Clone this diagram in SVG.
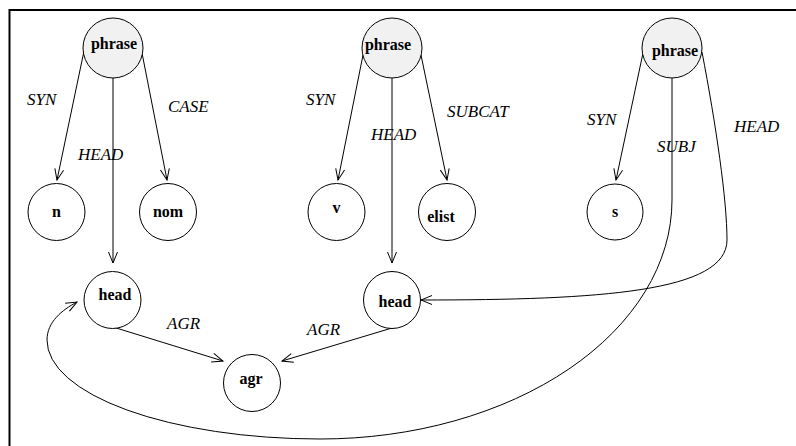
<svg xmlns="http://www.w3.org/2000/svg" width="796" height="446" viewBox="0 0 796 446">
<style>
.node circle{fill:#fff;stroke:#000;stroke-width:1}
.node.ph circle{fill:#f1f1f1}
.node text{font-family:"Liberation Serif",serif;font-weight:bold;font-size:16px;text-anchor:middle;fill:#000}
.edges path{fill:none;stroke:#000;stroke-width:1;marker-end:url(#arr)}
.lbl{font-family:"Liberation Serif",serif;font-style:italic;font-size:17px;fill:#000}
</style>
<defs>
<marker id="arr" markerUnits="userSpaceOnUse" markerWidth="14" markerHeight="12" refX="12" refY="5" orient="auto">
<path d="M1,0.5 L12,5 L1,9.5" fill="none" stroke="#000" stroke-width="1"/>
</marker>
</defs>
<rect width="796" height="446" fill="#fff"/>
<path d="M9.5,446 L9.5,10 L796,10" fill="none" stroke="#000" stroke-width="2"/>
<g class="edges">
<path d="M84,51 L57,180"/>
<path d="M142,53 L167,180"/>
<path d="M113,78 L113,263"/>
<path d="M363,55 L338,180"/>
<path d="M421,55 L447,180"/>
<path d="M392,78 L392,263"/>
<path d="M643,53 L616,180"/>
<path d="M672,78 L672,200 A352,239 0 0 1 320,439 A273,99 0 0 1 47,340 C47,322 62,310 77,302"/>
<path d="M702,52 C716,125 727,200 727,240 C727,292 600,300 421,300"/>
<path d="M113,327 L223,361"/>
<path d="M392,328 L282,361"/>
</g>
<g class="labels">
<text class="lbl" x="27" y="105">SYN</text>
<text class="lbl" x="168" y="112">CASE</text>
<text class="lbl" x="78" y="160">HEAD</text>
<text class="lbl" x="306" y="105">SYN</text>
<text class="lbl" x="447" y="117">SUBCAT</text>
<text class="lbl" x="371" y="140">HEAD</text>
<text class="lbl" x="587" y="125">SYN</text>
<text class="lbl" x="657" y="152">SUBJ</text>
<text class="lbl" x="734" y="132">HEAD</text>
<text class="lbl" x="167" y="329">AGR</text>
<text class="lbl" x="307" y="335">AGR</text>
</g>
<g id="phrase1" class="node ph"><circle cx="113" cy="48" r="30"/><text x="114" y="49">phrase</text></g>
<g id="phrase2" class="node ph"><circle cx="392" cy="48" r="30"/><text x="388" y="50">phrase</text></g>
<g id="phrase3" class="node ph"><circle cx="672" cy="48" r="30"/><text x="675" y="56">phrase</text></g>
<g id="n" class="node"><circle cx="56.5" cy="212" r="28.5"/><text x="56.5" y="217">n</text></g>
<g id="nom" class="node"><circle cx="168" cy="212" r="28.5"/><text x="168" y="217">nom</text></g>
<g id="v" class="node"><circle cx="336.5" cy="212" r="28.5"/><text x="336.5" y="213">v</text></g>
<g id="elist" class="node"><circle cx="447" cy="212" r="28.5"/><text x="441" y="222">elist</text></g>
<g id="s" class="node"><circle cx="615" cy="212" r="28"/><text x="615" y="217">s</text></g>
<g id="head1" class="node"><circle cx="112.5" cy="300" r="28.5"/><text x="115" y="300">head</text></g>
<g id="head2" class="node"><circle cx="392" cy="300" r="28.5"/><text x="395" y="307">head</text></g>
<g id="agr" class="node"><circle cx="252" cy="383" r="28.5"/><text x="251" y="384">agr</text></g>
</svg>
